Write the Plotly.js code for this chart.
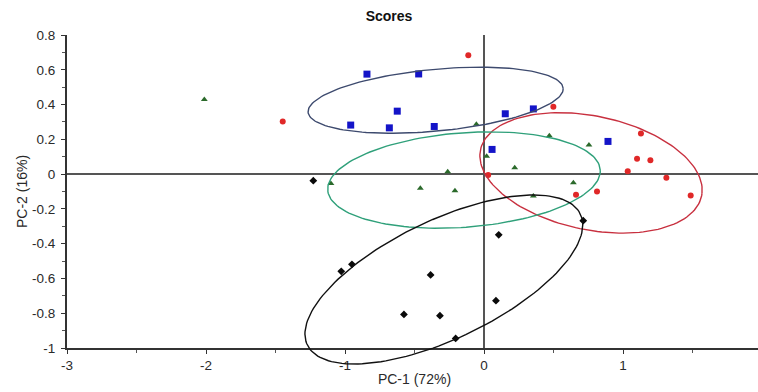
<!DOCTYPE html>
<html>
<head>
<meta charset="utf-8">
<script src="https://cdn.plot.ly/plotly-3.0.1.min.js"></script>
<style>html,body{margin:0;padding:0;overflow:hidden;background:#fff;}#chart{width:770px;height:392px;}</style>
</head>
<body>
<div id="chart"></div>
<script>
// ---- data ----
var blueX  = [-0.842, -0.470, -0.624, -0.959, -0.681, -0.358, 0.153, 0.355, 0.892, 0.058];
var blueY  = [0.575, 0.576, 0.362, 0.282, 0.266, 0.274, 0.347, 0.375, 0.188, 0.142];
var redX   = [-1.448, -0.113, 0.499, 1.129, 1.101, 1.197, 1.034, 1.312, 1.487, 0.030, 0.662, 0.813];
var redY   = [0.303, 0.684, 0.387, 0.234, 0.088, 0.079, 0.017, -0.021, -0.123, -0.005, -0.119, -0.100];
var greenX = [-2.012, -1.101, -0.055, 0.470, 0.755, 0.019, 0.221, 0.643, -0.458, -0.209, -0.261, 0.355];
var greenY = [0.429, -0.054, 0.287, 0.220, 0.167, 0.103, 0.036, -0.050, -0.082, -0.096, 0.013, -0.126];
var blackX = [-1.228, -1.027, -0.950, -0.384, -0.576, -0.317, -0.204, 0.106, 0.086, 0.714];
var blackY = [-0.038, -0.559, -0.519, -0.580, -0.807, -0.814, -0.945, -0.349, -0.728, -0.268];

// confidence ellipses: centre, semi-axes, rotation (radians, data units)
var ellipseNames = ["blue", "red", "green", "black"];
var ellipseCX    = [-0.348, 0.770, -0.144, -0.289];
var ellipseCY    = [0.425, 0.007, -0.034, -0.606];
var ellipseA     = [0.920, 0.807, 0.982, 1.054];
var ellipseB     = [0.178, 0.329, 0.272, 0.352];
var ellipseRot   = [0.074, -0.1475, 0.0574, 0.344];

var xTickVals = [-3, -2, -1, 0, 1, 2];
var xTickText = ["-3", "-2", "-1", "0", "1", "2"];
var yTickVals = [0.8, 0.6, 0.4, 0.2, 0, -0.2, -0.4, -0.6, -0.8, -1];
var yTickText = ["0.8", "0.6", "0.4", "0.2", "0", "-0.2", "-0.4", "-0.6", "-0.8", "-1"];

// ---- styles ----
var ellipseColors = ["#3d4a6e", "#c8303f", "#2fa07a", "#111111"];
var font = "Liberation Sans, Arial, sans-serif";

function ellipse(i) {
  var xs = [], ys = [], n = 160;
  var c = Math.cos(ellipseRot[i]), s = Math.sin(ellipseRot[i]);
  for (var k = 0; k <= n; k++) {
    var t = 2 * Math.PI * k / n;
    var u = ellipseA[i] * Math.cos(t), v = ellipseB[i] * Math.sin(t);
    xs.push(ellipseCX[i] + u * c - v * s);
    ys.push(ellipseCY[i] + u * s + v * c);
  }
  return {x: xs, y: ys, type: "scatter", mode: "lines", xaxis: "x2", yaxis: "y2",
          line: {color: ellipseColors[i], width: 1.4}, hoverinfo: "skip", showlegend: false};
}

var traces = [];
for (var i = 0; i < ellipseNames.length; i++) traces.push(ellipse(i));
traces.push({x: greenX, y: greenY, type: "scatter", mode: "markers",
  marker: {symbol: "triangle-up", size: 6, color: "#2b6a2b"}, showlegend: false});
traces.push({x: blackX, y: blackY, type: "scatter", mode: "markers",
  marker: {symbol: "diamond", size: 6, color: "#0a0a0a"}, showlegend: false});
traces.push({x: redX, y: redY, type: "scatter", mode: "markers",
  marker: {symbol: "circle", size: 6, color: "#e02828"}, showlegend: false});
traces.push({x: blueX, y: blueY, type: "scatter", mode: "markers",
  marker: {symbol: "square", size: 7, color: "#1414c8"}, showlegend: false});

var yRange = [-1, 0.8];
var plotTopPx = 35, yAxisBottomPx = 348, plotBottomPx = 368;
var d0 = (plotBottomPx - yAxisBottomPx) / (plotBottomPx - plotTopPx);
var y2Range = [yRange[1] - (yRange[1] - yRange[0]) / (1 - d0), yRange[1]];

var layout = {
  width: 770, height: 392,
  margin: {l: 67, r: 8, t: plotTopPx, b: 392 - plotBottomPx, pad: 0},
  paper_bgcolor: "#ffffff", plot_bgcolor: "rgba(0,0,0,0)",
  font: {family: font, size: 13.5, color: "#2a2a2a"},
  title: {text: "<b>Scores</b>", xref: "container", yref: "container",
          x: 389 / 770, xanchor: "center", y: 1 - 16.5 / 392, yanchor: "middle",
          font: {family: font, size: 14, color: "#111"}},
  showlegend: false,
  xaxis: {range: [-3, 2], anchor: "y", domain: [0, 1], showgrid: false,
    zeroline: true, zerolinecolor: "#555", zerolinewidth: 2,
    showline: true, linecolor: "#333", linewidth: 2,
    tickmode: "array", tickvals: xTickVals, ticktext: xTickText,
    ticks: "outside", ticklen: 4, tickwidth: 1, tickcolor: "#333",
    minor: {dtick: 0.5, ticks: "outside", ticklen: 3, tickwidth: 1, tickcolor: "#555", showgrid: false},
    tickfont: {family: font, size: 13.5, color: "#2a2a2a"},
    title: {text: "PC-1 (72%)", standoff: 2, font: {family: font, size: 14, color: "#2a2a2a"}},
    automargin: false, fixedrange: true},
  yaxis: {range: yRange, domain: [d0, 1], anchor: "x", showgrid: false,
    zeroline: true, zerolinecolor: "#555", zerolinewidth: 2,
    showline: true, linecolor: "#333", linewidth: 2,
    tickmode: "array", tickvals: yTickVals, ticktext: yTickText,
    ticks: "outside", ticklen: 4, tickwidth: 1, tickcolor: "#333",
    ticklabelstandoff: 3,
    minor: {dtick: 0.1, ticks: "outside", ticklen: 3, tickwidth: 1, tickcolor: "#555", showgrid: false},
    tickfont: {family: font, size: 13.5, color: "#2a2a2a"},
    title: {text: "PC-2 (16%)", standoff: 1, font: {family: font, size: 14, color: "#2a2a2a"}},
    automargin: false, fixedrange: true},
  xaxis2: {range: [-3, 2], anchor: "y2", domain: [0, 1], visible: false, fixedrange: true},
  yaxis2: {range: y2Range, domain: [0, 1], anchor: "x2", visible: false, fixedrange: true}
};

Plotly.newPlot("chart", traces, layout, {displayModeBar: false, staticPlot: true});
</script>
</body>
</html>
